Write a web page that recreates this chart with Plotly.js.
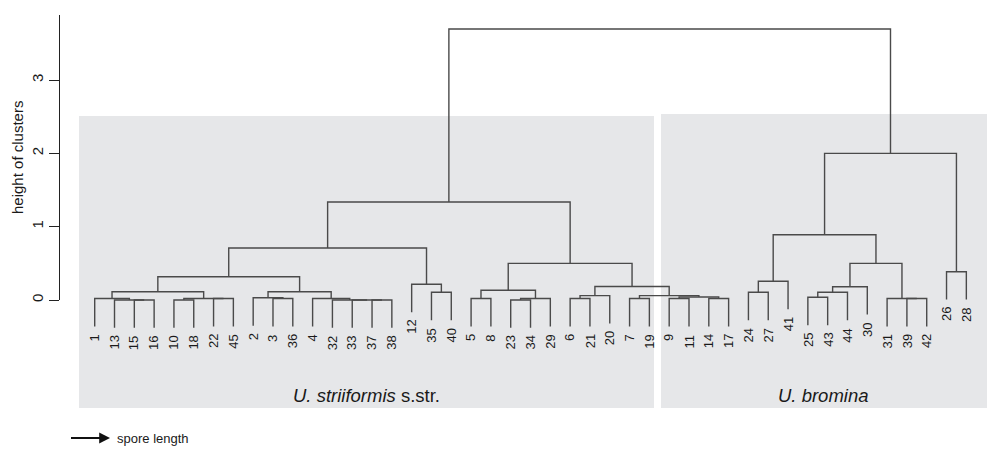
<!DOCTYPE html>
<html>
<head>
<meta charset="utf-8">
<script src="https://cdn.plot.ly/plotly-3.0.1.min.js"></script>
<style>html,body{margin:0;padding:0;background:#fff;}#chart{width:987px;height:449px;}</style>
</head>
<body>
<div id="chart"></div>
<script>
// Leaf labels in plotted order (left to right)
const leafOrder = [1,13,15,16,10,18,22,45,2,3,36,4,32,33,37,38,12,35,40,5,8,23,34,29,
                   6,21,20,7,19,9,11,14,17,24,27,41,25,43,44,30,31,39,42,26,28];
// hclust-style merge table: negative = leaf label, positive = earlier merge row (1-based)
const mergeLeft  = [-15,-13,-1,-10,-22, 4,-3,-2,-37,-33,-32,-4, 3, 8,13,-35,-12,15,-5,-23,20,19,-6,23,-7,-9,-14,26,25,24,22,18,-24,33,-25,35,36,-39,-31,37,34,-26,41,32];
const mergeRight = [-16,  1, 2,-18,-45, 5,-36, 7,-38,  9, 10,11, 6,12,14,-40, 16,17,-8,-34,-29,21,-21,-20,-19,-11,-17,27,28,29,30,31,-27,-41,-43,-44,-30,-42,38,39,40,-28,42,43];
const mergeHeight = [0.00,0.00,0.02,0.00,0.02,0.02,0.02,0.03,0.00,0.00,0.00,0.02,0.113,0.113,0.318,0.105,0.214,0.709,
                     0.02,0.00,0.02,0.132,0.02,0.06,0.02,0.02,0.02,0.04,0.06,0.185,0.50,1.336,
                     0.105,0.255,0.037,0.105,0.181,0.02,0.02,0.50,0.89,0.386,2.00,3.696];
const hang = 0.38;
const yTicks = [0,1,2,3];
const groupNames = ['<i>U. striiformis</i> s.str.', '<i>U. bromina</i>'];
const arrowLabel = 'spore length';
const yTitle = 'height of clusters';

// ---- build dendrogram segments from the merge table ----
const leafPos = {};
leafOrder.forEach((l, i) => { leafPos[l] = i + 1; });
const nodeX = [], nodeY = [], leafBottom = {};
const segX = [], segY = [];
function child(c, h) {
  if (c < 0) {
    const yb = h - hang;
    leafBottom[-c] = yb;
    return {x: leafPos[-c], y: yb};
  }
  return {x: nodeX[c - 1], y: nodeY[c - 1]};
}
for (let i = 0; i < mergeHeight.length; i++) {
  const h = mergeHeight[i];
  const a = child(mergeLeft[i], h), b = child(mergeRight[i], h);
  segX.push(a.x, a.x, b.x, b.x, null);
  segY.push(a.y, h, h, b.y, null);
  nodeX[i] = (a.x + b.x) / 2;
  nodeY[i] = h;
}

// ---- layout geometry (pixel-derived constants) ----
const W = 987, H = 449, L = 60;
const xPx = 19.81, yPx = 73.33, y0Px = 300;
const xMin = 1 - (94.7 - L) / xPx;
const xMax = xMin + (W - L) / xPx;
const yMax = y0Px / yPx, yMin = (y0Px - H) / yPx;
const axTopPx = 15;
const xp = px => xMin + (px - L) / xPx;          // pixel -> data x
const yp = py => (y0Px - py) / yPx;               // pixel -> data y
const pxp = px => (px - L) / (W - L);             // pixel -> paper x
const pyp = py => (H - py) / H;                   // pixel -> paper y

const font = '"Liberation Sans", Arial, Helvetica, sans-serif';
const txt = '#1a1a1a';

const traces = [
  {x: segX, y: segY, type: 'scatter', mode: 'lines',
   line: {color: '#4a4a4a', width: 1.4}, hoverinfo: 'skip', showlegend: false},
  {x: [0], y: [0], xaxis: 'x2', yaxis: 'y2', type: 'scatter', mode: 'markers',
   marker: {opacity: 0}, hoverinfo: 'skip', showlegend: false}
];

const annotations = leafOrder.map(l => ({
  x: leafPos[l], y: leafBottom[l], xref: 'x', yref: 'y',
  text: String(l), showarrow: false, textangle: -90,
  xanchor: 'center', yanchor: 'top', yshift: -6,
  font: {family: font, size: 13, color: txt}
}));
annotations.push(
  {xref: 'paper', yref: 'paper', x: pxp(366), y: pyp(395), text: groupNames[0], showarrow: false,
   xanchor: 'center', yanchor: 'middle', font: {family: font, size: 18.5, color: txt}},
  {xref: 'paper', yref: 'paper', x: pxp(823), y: pyp(395), text: groupNames[1], showarrow: false,
   xanchor: 'center', yanchor: 'middle', font: {family: font, size: 18.5, color: txt}},
  {xref: 'paper', yref: 'paper', x: pxp(18), y: pyp(158), text: yTitle, showarrow: false,
   textangle: -90, xanchor: 'center', yanchor: 'middle', font: {family: font, size: 15, color: txt}},
  {xref: 'paper', yref: 'paper', x: pxp(110), y: pyp(438), text: ' ', showarrow: true,
   ax: -42, ay: 0, arrowhead: 2, arrowsize: 1.2, arrowwidth: 1.8, arrowcolor: '#111'},
  {xref: 'paper', yref: 'paper', x: pxp(115), y: pyp(438), text: arrowLabel, showarrow: false,
   xanchor: 'left', yanchor: 'middle', font: {family: font, size: 13, color: txt}}
);

const bg = 'rgb(230,231,233)';
const shapes = [
  {type: 'rect', xref: 'x', yref: 'y', layer: 'below', x0: xp(79), x1: xp(654), y0: yp(408), y1: yp(116),
   fillcolor: bg, line: {width: 0}},
  {type: 'rect', xref: 'x', yref: 'y', layer: 'below', x0: xp(661), x1: xp(990), y0: yp(408), y1: yp(114),
   fillcolor: bg, line: {width: 0}}
];

const layout = {
  width: W, height: H,
  margin: {l: L, r: 0, t: 0, b: 0, pad: 0},
  paper_bgcolor: '#fff', plot_bgcolor: 'rgba(0,0,0,0)',
  showlegend: false,
  xaxis: {range: [xMin, xMax], visible: false, fixedrange: true},
  yaxis: {range: [yMin, yMax], visible: false, fixedrange: true},
  xaxis2: {domain: [0, 0.001], anchor: 'y2', visible: false, range: [0, 1], fixedrange: true},
  yaxis2: {
    domain: [pyp(y0Px), pyp(axTopPx)], anchor: 'x2', range: [0, (y0Px - axTopPx) / yPx],
    showline: true, linecolor: '#222', linewidth: 1,
    ticks: 'outside', ticklen: 10, tickwidth: 1, tickcolor: '#222',
    tickvals: yTicks, ticktext: yTicks.map(String), tickangle: -90,
    tickfont: {family: font, size: 15, color: txt},
    showgrid: false, zeroline: false, fixedrange: true
  },
  shapes: shapes,
  annotations: annotations
};

Plotly.newPlot('chart', traces, layout, {staticPlot: true, displayModeBar: false});
</script>
</body>
</html>
